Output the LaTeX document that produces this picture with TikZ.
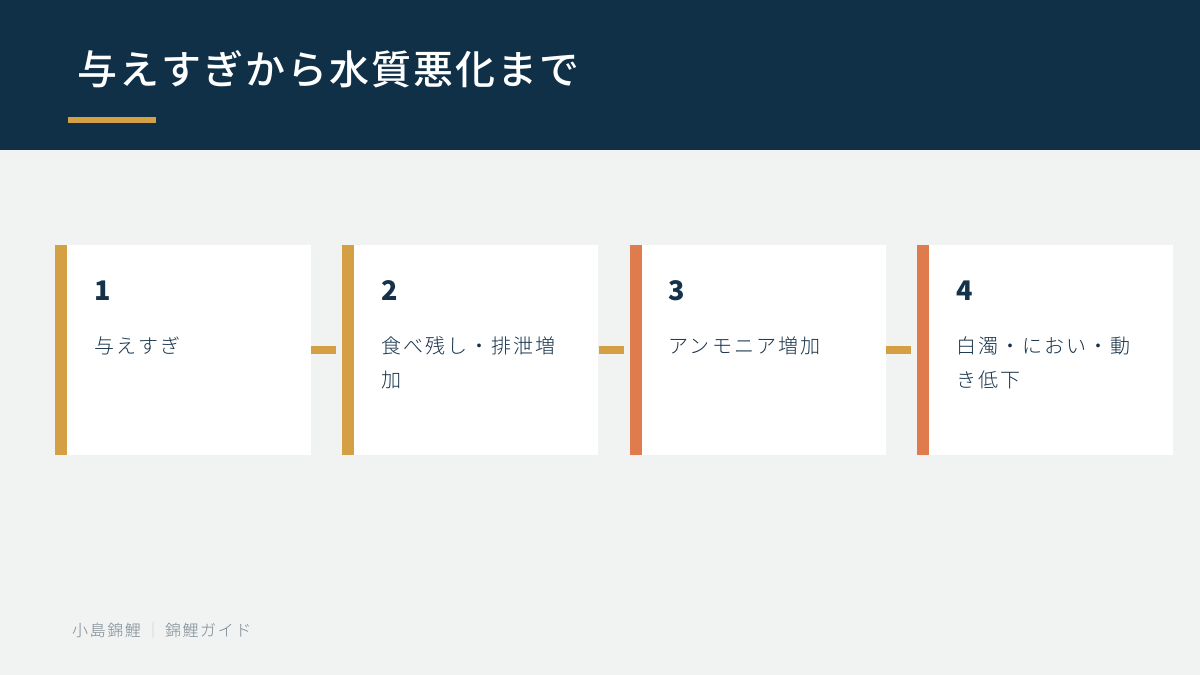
\documentclass[tikz,border=0pt]{standalone}
\usepackage{fontspec}
\setmainfont{Noto Sans CJK JP}
\newfontfamily\lightfont{Noto Sans CJK JP Light}
\newfontfamily\midfont{Noto Sans CJK JP Medium}
\usepackage{xcolor}
\usetikzlibrary{positioning}
\definecolor{navy}{HTML}{0F3047}
\definecolor{paper}{HTML}{F0F3F2}
\definecolor{gold}{HTML}{D4A043}
\definecolor{coral}{HTML}{E07B4E}
\definecolor{ink}{HTML}{16324A}
\definecolor{muted}{HTML}{7A8790}
\definecolor{faint}{HTML}{C5CCD0}
\tikzset{
	x=1pt, y=1pt, % one unit is one pixel of the slide
	card/.style={rectangle, fill=white, minimum width=256pt, minimum height=210pt, inner sep=0pt}, % white step card
	num/.style={font=\bfseries\fontsize{27}{27}\selectfont, text=ink, inner sep=0pt, anchor=base west}, % step number
	body/.style={font=\lightfont\fontsize{20}{34}\selectfont\addfontfeatures{LetterSpace=10}, text=ink, align=left, inner sep=0pt, anchor=north west}, % step text
	link/.style={draw=gold, line width=8pt, shorten >=6pt}, % short bar between cards
}

\begin{document}
\begin{tikzpicture}
		\fill[paper] (0,0) rectangle (1200,675);
		\useasboundingbox (0,0) rectangle (1200,675);

		% header
		\fill[navy] (0,525) rectangle (1200,675);
		\node[font=\midfont\fontsize{40}{40}\selectfont\addfontfeatures{LetterSpace=5}, text=white, inner sep=0pt, anchor=west] (title) at (77,606) {与えすぎから水質悪化まで};
		\fill[gold] (68,552) rectangle (156,558);

		% cards
		\node[card](c1) at (183,325){};
		\node[card,right=31pt of c1](c2){};
		\node[card,right=31pt of c2](c3){};
		\node[card,right=31pt of c3](c4){};

		\foreach \x/\col/\txt in {1/gold/与えすぎ, 2/gold/{食べ残し・排泄増\\加}, 3/coral/アンモニア増加, 4/coral/{白濁・におい・動\\き低下}}
		{
			\fill[\col] (c\x.north west) rectangle ([xshift=12pt]c\x.south west);
			\node[num] (n\x) at ([xshift=39pt,yshift=-56pt]c\x.north west) {\x};
			\node[body] (t\x) at ([xshift=39pt,yshift=-92pt]c\x.north west) {\txt};
		}

		\foreach \x in {1,...,3}
		{
			\pgfmathtruncatemacro{\cur}{\x}
			\pgfmathtruncatemacro{\next}{\cur + 1}
			\draw[link] (c\cur.east) -- (c\next.west);
		}

		% footer
		\node[font=\lightfont\fontsize{16}{16}\selectfont\addfontfeatures{LetterSpace=10}, text=muted, inner sep=0pt, anchor=west] (foot) at (72,45) {小島錦鯉\hspace{4pt}\textcolor{faint}{｜}\hspace{4pt}錦鯉ガイド};

	\end{tikzpicture}
\end{document}
